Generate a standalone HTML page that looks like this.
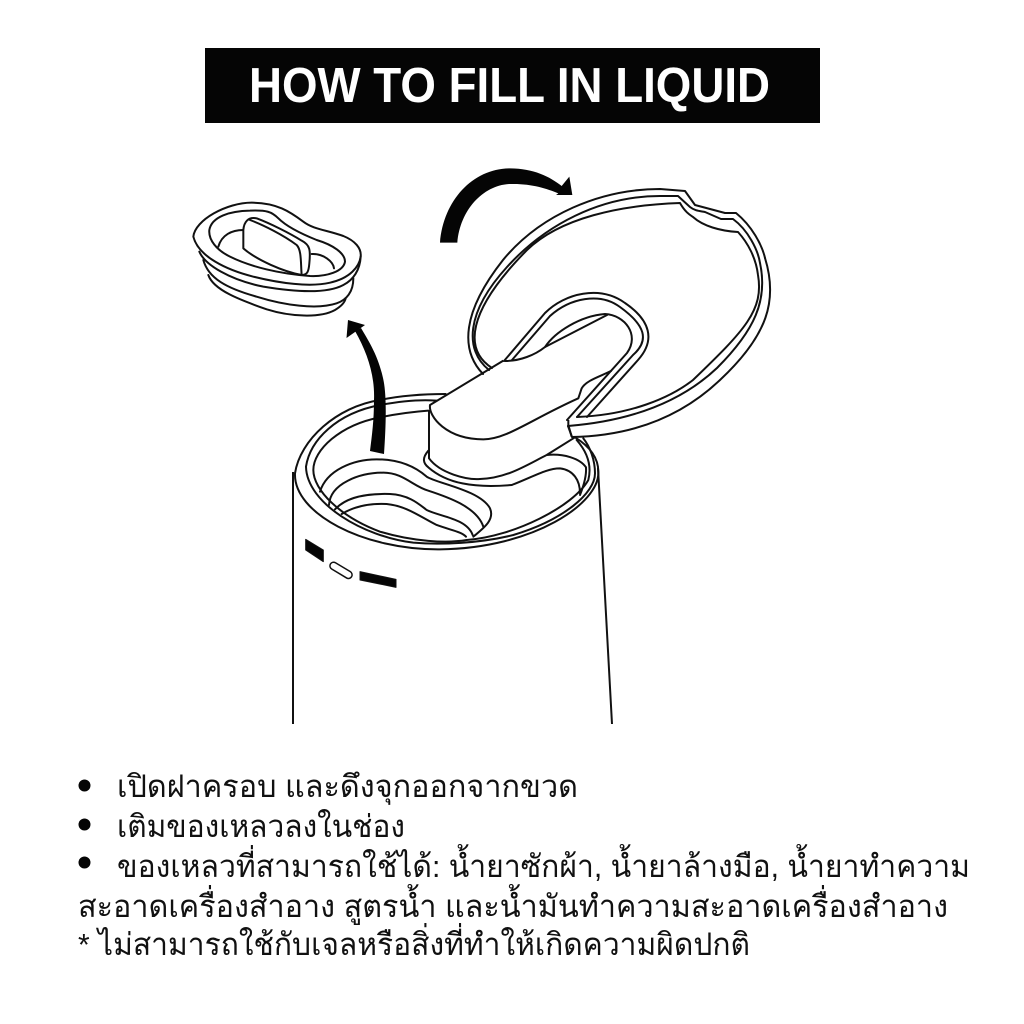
<!DOCTYPE html>
<html><head><meta charset="utf-8"><style>
html,body{margin:0;padding:0;background:#fff}
svg{display:block}
.t{font-family:"Liberation Sans","Noto Sans CJK SC",sans-serif;font-size:31px;fill:#111}
</style></head><body>
<svg width="1024" height="1024" viewBox="0 0 1024 1024" xmlns="http://www.w3.org/2000/svg">
<rect width="1024" height="1024" fill="#fff"/>
<rect x="205" y="48" width="615" height="75" fill="#050505"/>
<text x="249" y="102" font-family="Liberation Sans,sans-serif" font-weight="700" font-size="49" fill="#fff" textLength="521" lengthAdjust="spacingAndGlyphs">HOW TO FILL IN LIQUID</text>

<!-- bottle -->
<g fill="none" stroke="#111" stroke-width="2">
<path d="M293 472V724M598 468L612 724"/>
</g>
<g transform="translate(280,380) scale(.33333)" fill="none" stroke="#111" stroke-width="6" stroke-linecap="round" stroke-linejoin="round">
<path d="M45 280C60 180 170 80 300 60C370 45 440 42 497 42"/>
<path d="M885 172C930 200 955 235 955 275C960 370 760 505 480 508C250 510 40 400 45 280"/>
<path d="M78 260C90 180 170 100 300 75C370 62 420 58 470 62"/>
<path d="M910 175C930 200 945 240 945 280C945 340 850 420 700 465C600 490 480 495 400 488C250 470 80 370 78 260"/>
<path d="M445 92C390 96 340 104 300 112C180 135 100 210 100 270C100 330 180 410 300 455C400 485 500 490 560 480C700 470 880 380 925 300C935 260 925 220 890 180"/>
<path d="M120 335C140 270 220 238 290 238C350 238 400 255 440 290C470 310 600 330 630 385C645 420 610 445 580 470"/>
<path d="M147 375C150 310 240 278 310 278C370 278 400 320 445 332C500 350 590 380 610 440"/>
<path d="M165 388C200 350 260 340 330 342C390 345 420 375 440 390C480 410 560 415 578 465"/>
<path d="M185 402C230 375 280 370 320 372C380 378 420 410 470 435C510 450 545 455 558 470"/>
<path d="M695 315C760 290 800 265 840 265C880 270 900 300 900 340"/>
<path d="M800 225C850 220 900 235 918 262C920 290 910 320 900 345"/>
<path d="M445 212C425 235 430 250 445 262C500 310 580 325 695 315"/>
</g>
<g transform="translate(280,380) scale(.33333)" stroke="#111" stroke-width="3" stroke-linejoin="round">
<path d="M77 478L130 510V545L77 510Z" fill="#050505"/>
<rect x="-37" y="-11" width="74" height="22" rx="11" fill="#fff" stroke-width="4.500" transform="translate(183,571) rotate(31)"/>
<path d="M240 575L348 598V622L240 600Z" fill="#050505"/>
</g>

<!-- handle fill mask -->
<path d="M505 361L430 407L429 458C440 473 466 479 480 479C506 478 527 465 547 455L575 437L567 420L612 370L607 315Z" fill="#fff"/>

<!-- lid rim -->
<g fill="none" stroke="#111" stroke-width="2" stroke-linejoin="round" stroke-linecap="round">
<path d="M483 374C460 350 462 312 503 260C540 215 600 189 660 189L685 191L695 205L725 213H736C752 226 762 245 765 258"/>
<path d="M765 258C778 300 768 335 720 380C680 418 630 436 572 437L568 426"/>
<path d="M489 370C464 350 466 312 507 267C545 225 600 196 660 196H678L690 207C695 211 700 211 705 212L721 219H733C748 230 758 250 760 263C768 300 755 330 717 368C680 403 630 421 568 426"/>
<path d="M492 368C464 350 466 312 527 250C560 218 620 205 680 203C685 212 690 215 693 217C703 226 720 231 738 232C748 243 756 258 758 275C764 310 745 330 693 380C670 398 630 415 577 417"/>
<path d="M504 361L545 313C565 293 600 285 625 303C650 320 656 340 638 360L587 417"/>
<path d="M512 360L550 316C570 298 600 292 620 307C645 325 650 340 633 355L577 417"/>
<path d="M545 347C555 332 580 316 605 314C625 315 640 335 627 353L567 420"/>
<path d="M505 361C520 361 535 355 545 347L607 315"/>
</g>

<!-- handle outline -->
<g transform="translate(280,380) scale(.33333)" fill="none" stroke="#111" stroke-width="6" stroke-linejoin="round">
<path d="M447 90V235C480 280 560 300 600 297C680 295 740 255 800 225L885 172"/>
</g>
<g transform="translate(430,160) scale(.33333)" fill="none" stroke="#111" stroke-width="6" stroke-linejoin="round">
<path d="M220 602L0 735C-5 770 50 838 160 838C230 838 300 780 445 715L455 685C470 660 510 650 545 632"/>
<path d="M425 830L415 795V780"/>
</g>

<!-- small plug -->
<g transform="translate(170,150) scale(.33333)" fill="none" stroke="#111" stroke-width="6" stroke-linejoin="round" stroke-linecap="round">
<path d="M70 260C75 210 170 158 245 158C320 158 360 185 400 215C430 238 470 240 520 258C555 272 575 295 572 320C568 350 540 385 480 398C420 412 330 400 250 380C170 360 85 320 70 260Z"/>
<path d="M118 240C125 200 180 183 240 182C290 180 305 185 325 205C350 230 390 250 440 270C490 285 525 310 525 335C520 365 470 380 420 378C330 372 240 350 180 320C140 300 115 270 118 240Z"/>
<path d="M145 290C155 255 185 240 220 240M425 312C460 310 490 335 492 355"/>
<path d="M220 290V240C222 215 235 200 260 205C300 220 360 250 395 272C420 285 422 300 418 340C416 365 412 375 395 375C340 365 260 330 220 295Z" fill="#fff"/>
<path d="M395 375C392 340 395 300 380 285C340 255 280 225 240 210"/>
<path d="M88 305C105 345 180 390 280 410C370 425 470 432 520 405C550 390 570 360 572 320"/>
<path d="M100 330C115 385 170 415 260 440C340 465 440 480 500 460C530 450 550 425 550 385"/>
<path d="M115 375C130 420 210 450 290 478C360 500 450 505 495 480C515 468 525 455 527 445"/>
</g>

<!-- arrows -->
<path d="M348 320L346.500 338L365 325Z" fill="#050505"/>
<path d="M355 331C367 352 375 375 374 400C374 420 372 435 370 451L384 454C386 425 387 395 383 378C378 355 368 340 361 328Z" fill="#050505"/>
<g transform="translate(430,160) scale(.33333)">
<path d="M30 248C40 120 130 25 240 25C310 25 360 50 395 78L418 50L427 105H378L385 100C350 85 300 70 240 72C160 75 90 150 82 248Z" fill="#050505"/>
</g>

<!-- text -->
<g fill="#050505"><circle cx="84.500" cy="785.500" r="6"/><circle cx="84.500" cy="824.500" r="6"/><circle cx="84.500" cy="862.500" r="6"/></g>
<text class="t" x="117" y="797" textLength="461" lengthAdjust="spacingAndGlyphs">เปิดฝาครอบ และดึงจุกออกจากขวด</text>
<text class="t" x="117" y="837" textLength="288" lengthAdjust="spacingAndGlyphs">เติมของเหลวลงในช่อง</text>
<text class="t" x="117" y="877" textLength="853" lengthAdjust="spacingAndGlyphs">ของเหลวที่สามารถใช้ได้: น้ำยาซักผ้า, น้ำยาล้างมือ, น้ำยาทำความ</text>
<text class="t" x="78" y="917" textLength="870" lengthAdjust="spacingAndGlyphs">สะอาดเครื่องสำอาง สูตรน้ำ และน้ำมันทำความสะอาดเครื่องสำอาง</text>
<text class="t" x="78" y="955" textLength="672" lengthAdjust="spacingAndGlyphs">* ไม่สามารถใช้กับเจลหรือสิ่งที่ทำให้เกิดความผิดปกติ</text>
</svg>
</body></html>
